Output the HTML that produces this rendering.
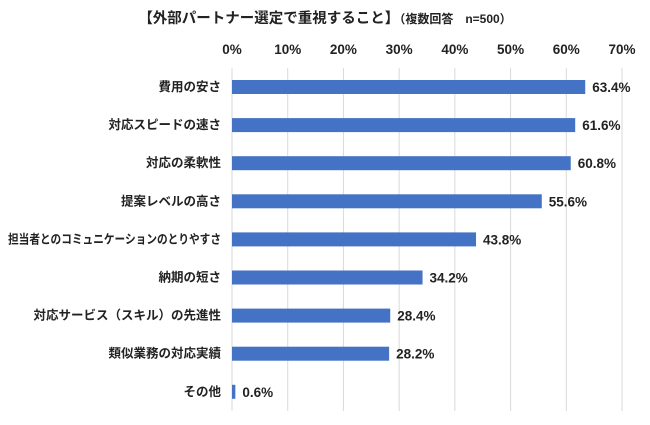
<!DOCTYPE html>
<html><head><meta charset="utf-8"><style>
body{margin:0;background:#fff;}
svg{display:block;font-family:"Liberation Sans","Noto Sans CJK JP",sans-serif;font-weight:bold;}
</style></head><body>
<svg id="c" width="650" height="425">
<text x="325" y="23" text-anchor="middle" fill="#222"><tspan font-size="14.5">【外部パートナー選定で重視すること】</tspan><tspan font-size="12">（複数回答　n=500）</tspan></text>
<g id="grid"></g><g id="bars"></g>
</svg>
<script>
const categories=["費用の安さ","対応スピードの速さ","対応の柔軟性","提案レベルの高さ","担当者とのコミュニケーションのとりやすさ","納期の短さ","対応サービス（スキル）の先進性","類似業務の対応実績","その他"];
const values=[63.4,61.6,60.8,55.6,43.8,34.2,28.4,28.2,0.6];
const ticks=[0,10,20,30,40,50,60,70];
const NS="http://www.w3.org/2000/svg";
const x=v=>232+v*(622-232)/70;
const y=i=>87+i*38.1;
const g=document.getElementById("grid"),b=document.getElementById("bars");
function mk(p,t,a){const e=document.createElementNS(NS,t);for(const k in a)e.setAttribute(k,a[k]);p.appendChild(e);return e;}
ticks.forEach(t=>{
 const l=mk(g,"line",{x1:x(t),x2:x(t),y1:68,y2:411,stroke:"#d9d9d9","stroke-width":1});
 
 
 const tx=mk(g,"text",{x:x(t),y:54,"text-anchor":"middle","font-size":13.5,fill:"#222"});
 tx.textContent=t+"%";
 
 
});
categories.forEach((c,i)=>{
 const r=mk(b,"rect",{x:x(0),y:y(i)-7,width:Math.max(x(values[i])-x(0),1.5),height:14,fill:"#4472c4"});
 
 
 const cl=mk(b,"text",{x:221,y:y(i)+4,"text-anchor":"end","font-size":12.5,fill:"#222"});
 cl.textContent=c;
 
 
 if(cl.getComputedTextLength()>213){cl.setAttribute("textLength",213);cl.setAttribute("lengthAdjust","spacingAndGlyphs");}
 const vl=mk(b,"text",{x:x(values[i])+7,y:y(i)+5,"font-size":13.5,fill:"#222"});
 vl.textContent=values[i].toFixed(1)+"%";
 
 
});
</script>
</body></html>
